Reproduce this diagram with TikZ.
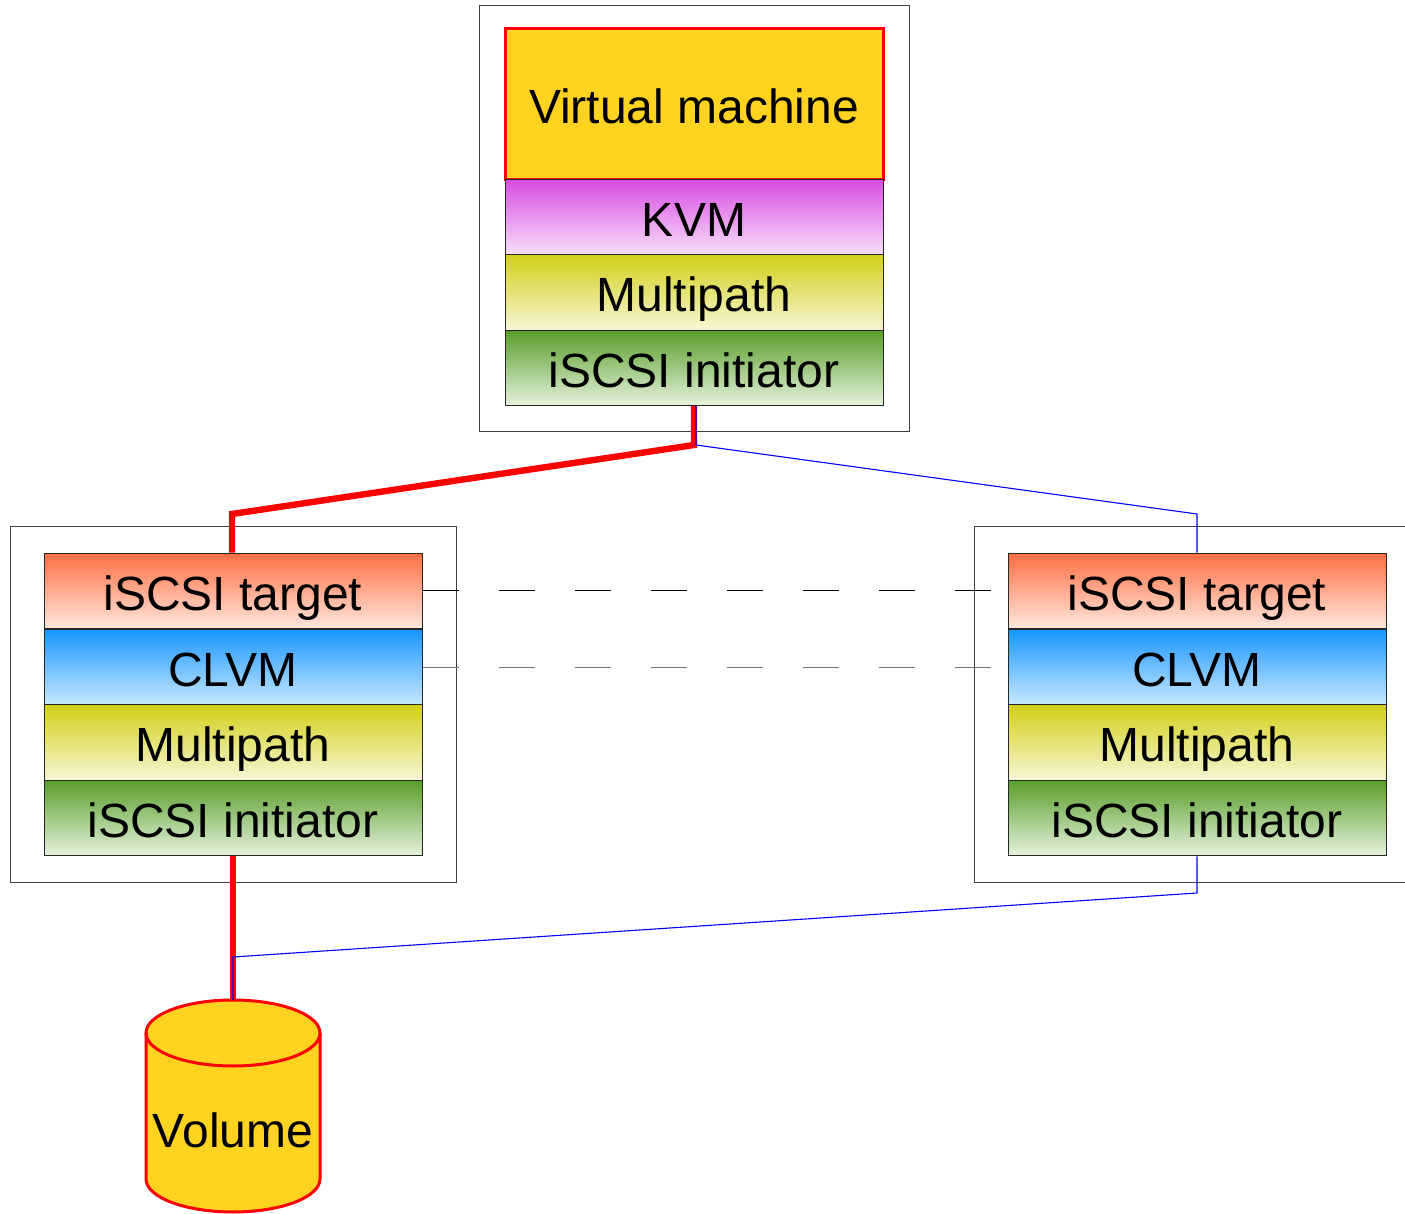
\documentclass[tikz,border=0pt]{standalone}
\usepackage{fontspec}
\setmainfont{Liberation Sans}
\begin{document}
\begin{tikzpicture}[x=0.5pt,y=-0.5pt,
  font=\fontsize{24}{28}\selectfont,
  host/.style={draw=black!75,line width=0.5pt,rectangle,inner sep=0pt},
  txtbox/.style={text height=19.2pt,text depth=0pt},
  layer/.style={txtbox,draw=black!85,line width=0.5pt,rectangle,inner sep=0pt,
    minimum width=189pt,minimum height=37.75pt},
  kvmfill/.style={top color=kvmTop,bottom color=kvmBot},
  mpfill/.style={top color=mpTop,bottom color=mpBot},
  inifill/.style={top color=iniTop,bottom color=iniBot},
  tgtfill/.style={top color=tgtTop,bottom color=tgtBot},
  lvmfill/.style={top color=lvmTop,bottom color=lvmBot},
  redpath/.style={draw=red,line width=3.2pt,line join=miter},
  bluepath/.style={draw=blue,line width=0.55pt},
  peer/.style={line width=0.5pt,dash pattern=on 18pt off 20pt}]
\definecolor{gold}{RGB}{255,211,32}
\definecolor{kvmTop}{RGB}{216,76,226}
\definecolor{kvmBot}{RGB}{247,224,250}
\definecolor{mpTop}{RGB}{210,208,24}
\definecolor{mpBot}{RGB}{247,246,214}
\definecolor{iniTop}{RGB}{88,158,40}
\definecolor{iniBot}{RGB}{230,242,222}
\definecolor{tgtTop}{RGB}{255,110,66}
\definecolor{tgtBot}{RGB}{255,232,222}
\definecolor{lvmTop}{RGB}{24,150,255}
\definecolor{lvmBot}{RGB}{200,232,255}

\useasboundingbox (0,0) rectangle (1405,1214);

% host frames
\node[host,minimum width=215pt,minimum height=213pt] (hostT) at (694,219) {};
\node[host,minimum width=223pt,minimum height=177.5pt] (hostL) at (233,704.5) {};
\node[host,minimum width=223pt,minimum height=177.5pt] (hostR) at (1197,704.5) {};

% peer links between the storage nodes
\draw[peer,black] (423,591) -- (1008,591);
\draw[peer,black!55] (423,667) -- (1008,667);

% hypervisor stack
\node[txtbox,draw=red,line width=1.5pt,fill=gold,rectangle,minimum width=189pt,minimum height=75.5pt,inner sep=0pt]
  (vm) at (694,104) {Virtual machine};
\node[layer,kvmfill] (kvm) at (694,217) {KVM};
\node[layer,mpfill] (mpT) at (694,292.5) {Multipath};
\node[layer,inifill] (iniT) at (694,368) {iSCSI initiator};

% left storage stack
\node[layer,tgtfill] (tgtL) at (233,591) {iSCSI target};
\node[layer,lvmfill] (lvmL) at (233,667) {CLVM};
\node[layer,mpfill] (mpL) at (233,742.5) {Multipath};
\node[layer,inifill] (iniL) at (233,818) {iSCSI initiator};

% right storage stack
\node[layer,tgtfill] (tgtR) at (1197,591) {iSCSI target};
\node[layer,lvmfill] (lvmR) at (1197,667) {CLVM};
\node[layer,mpfill] (mpR) at (1197,742.5) {Multipath};
\node[layer,inifill] (iniR) at (1197,818) {iSCSI initiator};

% volume cylinder
\filldraw[draw=red,line width=1.5pt,fill=gold]
  (146,1033) -- (146,1179) arc[start angle=180,end angle=0,x radius=87,y radius=33]
  -- (320,1033) arc[start angle=0,end angle=-180,x radius=87,y radius=33] -- cycle;
\draw[red,line width=1.5pt] (146,1033) arc[start angle=180,end angle=0,x radius=87,y radius=33];
\node[txtbox] (vol) at (233,1128) {Volume};
\coordinate (volTop) at (233,1000);

% active path (red) and standby path (blue)
\coordinate (jT) at (694,445);
\coordinate (jL) at (232,514);
\coordinate (jTb) at (696,445);
\coordinate (jR) at (1197,514);
\coordinate (jRb) at (1197,893);
\coordinate (jV) at (233,957);

\draw[redpath] (iniT.south) -- (jT) -- (jL) -- (tgtL.north -| jL);
\draw[redpath] (iniL.south) -- (volTop);
\draw[bluepath] ([xshift=1pt]iniT.south) -- (jTb) -- (jR) -- (tgtR.north);
\draw[bluepath] (iniR.south) -- (jRb) -- (jV) -- (volTop);
\end{tikzpicture}
\end{document}
